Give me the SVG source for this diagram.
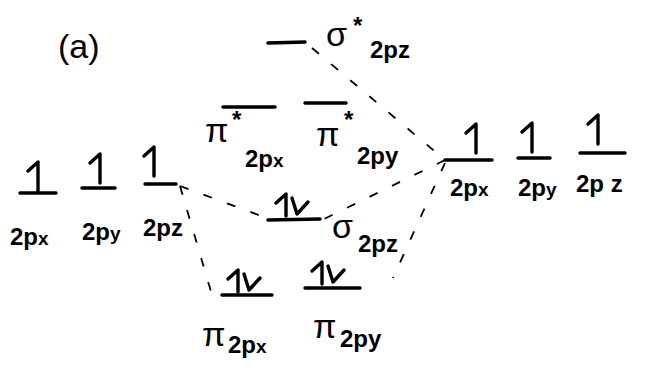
<svg xmlns="http://www.w3.org/2000/svg" width="657" height="367" viewBox="0 0 657 367">
<style>
.lvl{stroke:#000;stroke-width:3.5;stroke-linecap:round;fill:none}
.arr{stroke:#000;stroke-width:3.4;stroke-linecap:round;stroke-linejoin:round;fill:none}
.dash{stroke:#000;stroke-width:1.8;stroke-dasharray:9 16;fill:none}
text{font-family:"Liberation Sans","DejaVu Sans",sans-serif;fill:#000;font-weight:bold}
.g{font-size:34px;font-weight:normal}
.st{font-size:24px}
.s{font-size:24px}
.x{font-size:19px}
</style>
<defs>
<path id="up" class="arr" d="M-6 9 L4 0 L4 29"/>
<g id="pair">
<path class="arr" d="M-6 9 L4 0 L4 22"/>
<path class="arr" d="M10 4 L15 20 L26 8"/>
</g>
</defs>
<rect width="657" height="367" fill="#fff"/>
<text x="58" y="58" style="font-size:34px;font-weight:normal">(a)</text>
<g id="connectors">
<path class="dash" d="M312 48 L445 160"/>
<path class="dash" d="M180 186 L264 217"/>
<path class="dash" d="M180 186 L212 295"/>
<path class="dash" d="M445 160 L322 220"/>
<path class="dash" d="M445 163 L393 278"/>
</g>
<g id="sigma-star-2pz">
<line class="lvl" x1="268" y1="43" x2="305" y2="42"/>
<text class="g" x="326" y="46">σ</text><text class="st" x="353" y="34">*</text>
<text class="s" x="370" y="58">2pz</text>
</g>
<g id="pi-star-2px">
<line class="lvl" x1="223" y1="107" x2="275" y2="107"/>
<text class="g" x="205" y="142">π</text><text class="st" x="232" y="128">*</text>
<text class="s" x="245" y="167">2p<tspan class="x">x</tspan></text>
</g>
<g id="pi-star-2py">
<line class="lvl" x1="305" y1="103" x2="346" y2="103"/>
<text class="g" x="316" y="146">π</text><text class="st" x="344" y="128">*</text>
<text class="s" x="357" y="164">2py</text>
</g>
<g id="left-2px">
<line class="lvl" x1="20" y1="193" x2="56" y2="193"/>
<use href="#up" x="34" y="162"/>
<text class="s" x="10" y="245">2p<tspan class="x">x</tspan></text>
</g>
<g id="left-2py">
<line class="lvl" x1="82" y1="188" x2="115" y2="188"/>
<use href="#up" x="96" y="154"/>
<text class="s" x="82" y="240">2p<tspan class="x">y</tspan></text>
</g>
<g id="left-2pz">
<line class="lvl" x1="145" y1="184" x2="176" y2="184"/>
<use href="#up" x="150" y="147"/>
<text class="s" x="143" y="236">2pz</text>
</g>
<g id="right-2px">
<line class="lvl" x1="445" y1="160" x2="492" y2="160"/>
<use href="#up" x="472" y="124"/>
<text class="s" x="450" y="196">2p<tspan class="x">x</tspan></text>
</g>
<g id="right-2py">
<line class="lvl" x1="518" y1="158" x2="550" y2="158"/>
<use href="#up" x="528" y="123"/>
<text class="s" x="518" y="196">2p<tspan class="x">y</tspan></text>
</g>
<g id="right-2pz">
<line class="lvl" x1="580" y1="153" x2="625" y2="153"/>
<use href="#up" x="594" y="115"/>
<text class="s" x="576" y="192">2p z</text>
</g>
<g id="sigma-2pz">
<line class="lvl" x1="268" y1="220" x2="320" y2="219"/>
<use href="#pair" x="282" y="194"/>
<text class="g" x="332" y="238">σ</text>
<text class="s" x="358" y="252">2pz</text>
</g>
<g id="pi-2px">
<line class="lvl" x1="222" y1="295" x2="272" y2="295"/>
<use href="#pair" x="234" y="270"/>
<text class="g" x="202" y="346">π</text>
<text class="s" x="228" y="353">2p<tspan class="x">x</tspan></text>
</g>
<g id="pi-2py">
<line class="lvl" x1="305" y1="288" x2="360" y2="288"/>
<use href="#pair" x="318" y="262"/>
<text class="g" x="313" y="338">π</text>
<text class="s" x="340" y="347">2py</text>
</g>
</svg>
